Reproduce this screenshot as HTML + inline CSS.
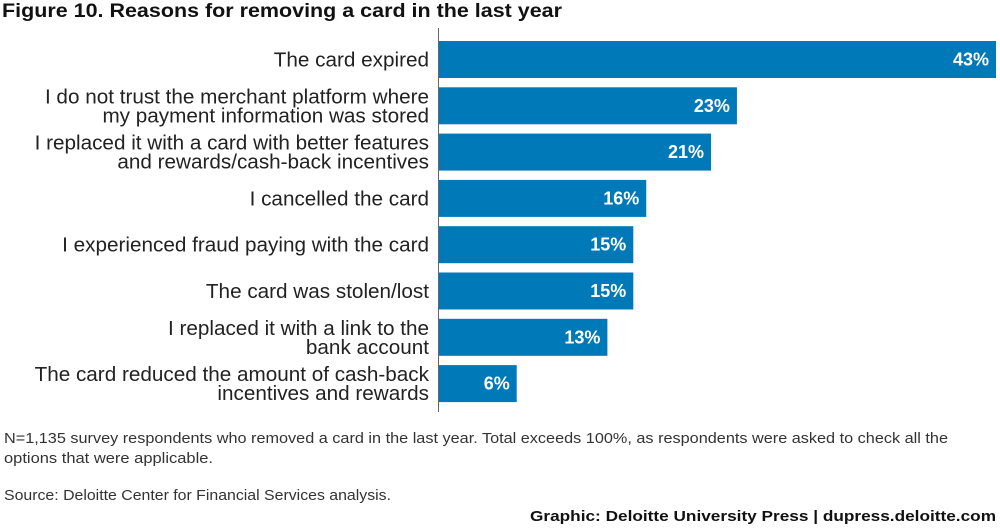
<!DOCTYPE html>
<html><head><meta charset="utf-8"><style>
body{margin:0;background:#fff;width:1000px;height:530px;overflow:hidden;font-family:"Liberation Sans",sans-serif;}
svg{display:block}
</style></head><body>
<svg width="1000" height="530">
<text x="2" y="17" font-size="19" font-weight="bold" fill="#111" textLength="560" lengthAdjust="spacingAndGlyphs">Figure 10. Reasons for removing a card in the last year</text>
<line x1="438.5" y1="28" x2="438.5" y2="412" stroke="#666" stroke-width="1"/>
<g id="bars"></g>
<text x="4" y="443" font-size="15" fill="#333" textLength="944" lengthAdjust="spacingAndGlyphs">N=1,135 survey respondents who removed a card in the last year. Total exceeds 100%, as respondents were asked to check all the</text>
<text x="4" y="463" font-size="15" fill="#333" textLength="209" lengthAdjust="spacingAndGlyphs">options that were applicable.</text>
<text x="4" y="500" font-size="15" fill="#333" textLength="387" lengthAdjust="spacingAndGlyphs">Source: Deloitte Center for Financial Services analysis.</text>
<text x="530" y="521" font-size="15" font-weight="bold" fill="#111" textLength="466" lengthAdjust="spacingAndGlyphs">Graphic: Deloitte University Press  |  dupress.deloitte.com</text>
</svg>
<script>
const categories=[["The card expired"],["I do not trust the merchant platform where","my payment information was stored"],["I replaced it with a card with better features","and rewards/cash-back incentives"],["I cancelled the card"],["I experienced fraud paying with the card"],["The card was stolen/lost"],["I replaced it with a link to the","bank account"],["The card reduced the amount of cash-back","incentives and rewards"]];
const values=[43,23,21,16,15,15,13,6];
const valueLabels=["43%","23%","21%","16%","15%","15%","13%","6%"];
const x0=439,xMax=43,xW=557;
const xs=v=>x0+v/xMax*xW;
const y0=41,step=46.3,bh=37;
const ys=i=>y0+i*step;
const g=document.getElementById('bars');const NS="http://www.w3.org/2000/svg";
values.forEach((v,i)=>{
const r=document.createElementNS(NS,'rect');
r.setAttribute('x',x0);r.setAttribute('y',ys(i));r.setAttribute('width',xs(v)-x0);r.setAttribute('height',bh);r.setAttribute('fill','#0079b8');


g.appendChild(r);
const t=document.createElementNS(NS,'text');
t.setAttribute('x',xs(v)-7);t.setAttribute('y',ys(i)+bh/2+6);t.setAttribute('text-anchor','end');t.setAttribute('font-size','18');t.setAttribute('font-weight','bold');t.setAttribute('fill','#fff');
t.textContent=valueLabels[i];


g.appendChild(t);
const lines=categories[i];
lines.forEach((ln,j)=>{
const c=document.createElementNS(NS,'text');
const cy=ys(i)+bh/2+7+(j-(lines.length-1)/2)*19;
c.setAttribute('x',429);c.setAttribute('y',cy);c.setAttribute('text-anchor','end');c.setAttribute('font-size','20.7');c.setAttribute('fill','#222');
c.textContent=ln;


g.appendChild(c);
});
});
</script>
</body></html>
